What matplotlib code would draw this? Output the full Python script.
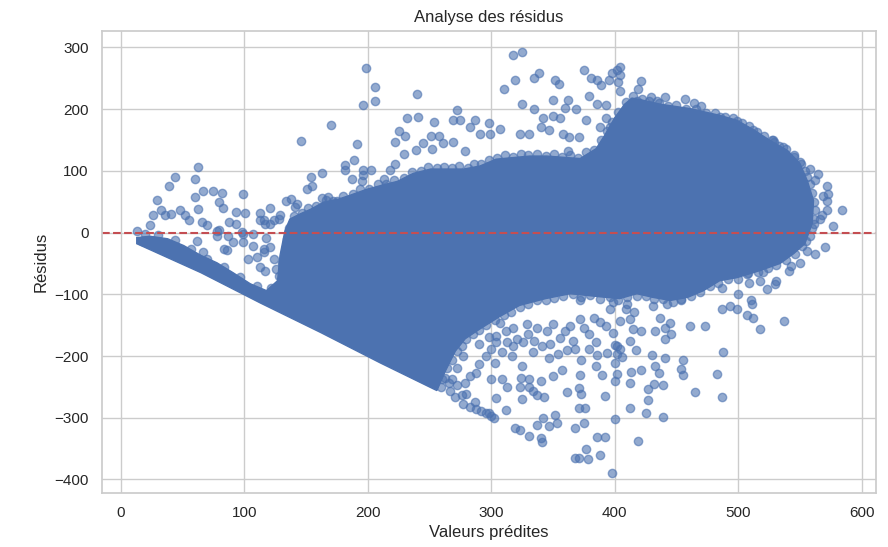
import matplotlib
matplotlib.use('Agg')
import matplotlib.pyplot as plt
import seaborn as sns

sns.set_theme(style='whitegrid')
plt.rcParams['font.family'] = ['Liberation Sans', 'DejaVu Sans']

# === Data: (predicted value, residual) ===
# outline of the solid core where thousands of points overlap
core_pts = [(13, -18), (65, -65), (113, -114), (162, -162), (210, -211), (256, -256),
            (263, -224), (271, -192), (279, -172), (291, -156), (307, -136), (323, -118),
            (344, -107), (364, -99), (388, -104), (404, -107), (418, -99), (431, -105),
            (445, -110), (459, -105), (472, -94), (485, -78), (499, -73), (517, -62),
            (534, -50), (545, -34), (554, -18), (560, 15), (561, 52), (556, 84),
            (550, 112), (540, 133), (526, 149), (513, 166), (499, 182), (485, 190),
            (461, 201), (437, 208), (424, 214), (414, 218), (408, 208), (400, 186),
            (392, 158), (385, 136), (372, 120), (345, 124), (331, 124), (304, 119),
            (291, 108), (278, 103), (251, 103), (237, 96), (224, 83), (212, 77),
            (199, 70), (185, 60), (176, 54), (164, 49), (154, 38), (145, 30),
            (137, 22), (133, 3), (129, -37), (127, -78), (118, -94), (105, -83),
            (91, -65), (78, -49), (65, -37), (51, -21), (38, -10), (24, -6), (13, -8)]

# points sitting on the rim of the core
rim_pts = [(140, 27), (147, 31), (152, 40), (158, 43), (166, 53), (172, 52), (180, 60),
           (188, 63), (194, 70), (201, 71), (208, 79), (215, 79), (221, 86), (229, 89),
           (236, 99), (243, 100), (249, 107), (256, 104), (262, 107), (268, 104),
           (274, 108), (281, 105), (286, 111), (292, 111), (298, 118), (305, 121),
           (311, 126), (318, 123), (324, 128), (330, 125), (337, 128), (344, 124),
           (351, 127), (357, 122), (364, 125), (370, 121), (377, 130), (383, 134),
           (389, 150), (394, 165), (398, 180), (403, 195), (409, 212), (415, 222),
           (422, 217), (428, 213), (436, 210), (443, 205), (450, 206), (458, 200),
           (466, 200), (474, 194), (481, 193), (489, 187), (496, 185), (503, 177),
           (509, 173), (515, 163), (521, 157), (527, 150), (533, 140), (539, 135),
           (545, 122), (550, 114), (554, 100), (556, 90), (558, 78), (560, 64),
           (561, 50), (562, 36), (561, 22), (560, 8), (558, -6), (555, -14),
           (552, -22), (546, -34), (539, -44), (531, -52), (524, -58), (516, -64),
           (508, -66), (500, -75), (492, -76), (484, -82), (477, -86), (469, -96),
           (462, -102), (454, -108), (447, -112), (439, -108), (432, -108), (425, -102),
           (418, -102), (410, -105), (403, -109), (396, -104), (388, -108), (380, -101),
           (373, -104), (366, -100), (358, -103), (351, -106), (344, -110), (337, -110),
           (330, -116), (323, -120), (316, -128), (310, -134), (303, -142), (296, -150),
           (290, -158), (285, -165), (280, -172), (276, -184), (272, -192), (268, -206),
           (264, -220), (260, -238), (20, -2), (30, -4), (44, -12), (57, -26), (70, -42),
           (84, -56), (97, -72), (110, -86), (122, -90), (128, -70), (131, -50),
           (134, -30), (135, -10), (136, 8)]

# scattered points, left part
left_pts = [(13, 2), (17, -13), (24, 13), (26, 29), (29, 53), (33, 36), (36, 28), (39, 75),
            (41, 30), (44, 90), (48, 36), (52, 29), (55, 20), (60, 87), (60, 58), (63, 107),
            (63, 39), (66, 17), (67, 67), (70, 13), (75, 68), (78, 3), (80, 49), (82, 64),
            (83, 40), (80, 4), (86, -29), (88, 17), (93, 34), (93, 14), (91, -16), (99, 62),
            (101, 32), (99, -2), (99, -16), (107, -2), (113, 31), (116, 21), (116, -32),
            (121, 40), (124, 20), (129, 28), (134, 52), (138, 55), (141, 42), (146, 148),
            (151, 71), (154, 90), (155, 76), (163, 97), (170, 175), (182, 110), (189, 117),
            (191, 144), (196, 206), (199, 266), (62, -13), (67, -32), (78, -5), (84, -27),
            (87, -5), (98, 1), (103, -43), (107, -21), (110, -40), (113, -56), (117, -62),
            (116, -27), (118, -8), (121, -24), (124, -43), (126, -59), (117, 14), (113, 20),
            (121, 14), (128, 22), (143, 47), (163, 56), (168, 57), (175, 52), (182, 101),
            (196, 101), (203, 101), (187, 87), (195, 84), (218, 101), (213, 87), (222, 111),
            (196, 94)]

# scattered points above the core
top_pts = [(206, 236), (206, 214), (240, 225), (232, 186), (241, 187), (254, 180), (225, 164),
           (230, 156), (222, 146), (251, 156), (258, 156), (245, 145), (239, 134), (252, 136),
           (261, 145), (269, 147), (272, 198), (269, 183), (275, 183), (283, 171), (287, 183),
           (298, 177), (310, 232), (318, 288), (325, 292), (319, 247), (325, 209), (335, 201),
           (335, 251), (339, 259), (342, 185), (350, 215), (350, 189), (352, 247), (355, 241),
           (356, 185), (360, 202), (362, 215), (369, 201), (375, 264), (379, 222), (381, 250),
           (386, 248), (389, 239), (395, 247), (402, 264), (404, 255), (398, 258), (403, 244),
           (404, 230), (386, 209), (393, 206), (377, 182), (371, 155), (362, 133), (363, 155),
           (340, 171), (347, 167), (331, 160), (323, 160), (307, 168), (291, 160), (299, 160),
           (421, 245), (419, 233), (418, 214), (429, 220), (404, 185), (396, 171), (388, 171),
           (229, 128), (279, 133), (358, 159), (393, 185), (404, 268), (441, 219), (457, 217),
           (464, 210), (470, 205), (499, 181), (512, 166), (528, 150), (485, 187), (421, 209),
           (434, 214)]

# scattered points on the right and lower right
right_pts = [(529, 146), (536, 138), (545, 125), (551, 111), (558, 103), (565, 95), (562, 86),
             (572, 75), (569, 60), (573, 62), (572, 52), (572, 37), (584, 37), (568, 28),
             (566, 22), (561, 14), (577, 11), (570, -24), (556, -30), (562, -35), (550, -49),
             (543, -54), (541, -63), (531, -78), (530, -83), (523, -91), (518, -78), (509, -82),
             (507, -67), (512, -56), (520, -64), (500, -100), (510, -110), (511, -116),
             (512, -138), (518, -156), (537, -143), (493, -119), (487, -124), (499, -124),
             (487, -89), (473, -151), (461, -151), (454, -110), (442, -116), (431, -119),
             (445, -146), (437, -138), (433, -159), (441, -173), (421, -159), (412, -175),
             (410, -116), (416, -129), (507, -133), (488, -194), (483, -229), (487, -267),
             (465, -258), (455, -207), (454, -221), (455, -230), (441, -203), (439, -247),
             (436, -228), (433, -216), (430, -198), (439, -299), (427, -271), (425, -293),
             (412, -285), (412, -244), (421, -223), (413, -226), (417, -190), (419, -338),
             (441, -154), (446, -164), (415, -156), (412, -140), (404, -143)]

# scattered points below the core
low_pts = [(400, -302), (392, -265), (392, -331), (398, -390), (388, -360), (390, -231),
           (400, -211), (402, -197), (404, -189), (394, -195), (406, -202), (399, -162),
           (393, -151), (400, -182), (341, -183), (356, -171), (347, -203), (354, -196),
           (361, -190), (368, -189), (373, -206), (379, -189), (386, -198), (402, -183),
           (357, -223), (350, -233), (340, -241), (331, -238), (324, -235), (325, -216),
           (309, -238), (300, -238), (313, -250), (323, -250), (331, -250), (325, -270),
           (337, -263), (343, -266), (361, -258), (371, -252), (373, -261), (372, -231),
           (385, -216), (304, -268), (312, -287), (300, -297), (298, -292), (319, -316),
           (323, -320), (331, -330), (340, -333), (341, -339), (337, -312), (342, -300),
           (347, -314), (352, -296), (353, -309), (368, -316), (375, -309), (386, -331),
           (377, -350), (368, -365), (371, -366), (378, -367), (304, -177), (321, -172),
           (334, -256), (371, -285), (376, -285), (400, -240), (402, -229), (427, -254),
           (432, -246), (267, -256), (271, -267), (277, -278), (283, -282), (288, -286),
           (292, -289), (296, -293), (302, -300), (280, -262), (287, -274), (276, -263),
           (266, -243), (272, -247), (259, -251), (237, -208), (250, -208), (256, -194),
           (242, -219), (248, -229), (258, -221), (263, -235), (268, -238), (279, -243),
           (283, -232), (288, -227), (272, -219), (277, -200), (290, -213), (296, -200),
           (303, -211), (309, -194), (317, -200), (318, -183), (326, -178), (334, -194),
           (304, -167), (379, -164), (396, -124), (383, -138), (372, -140), (364, -151),
           (350, -148), (337, -154), (329, -148), (318, -154), (307, -146), (294, -138),
           (283, -148), (372, -110), (399, -113), (409, -124), (290, -180), (298, -170),
           (312, -160), (330, -165), (345, -160), (360, -160), (375, -155), (388, -145),
           (300, -188), (313, -178), (335, -175), (348, -180), (366, -175), (385, -178)]

core_pred, core_resid = zip(*core_pts)
pred, resid = zip(*(rim_pts + left_pts + top_pts + right_pts + low_pts))

blue = sns.color_palette()[0]

# === Plot ===
fig = plt.figure(figsize=(8.88, 5.47), dpi=100)
ax = fig.add_axes([0.1145, 0.0993, 0.872, 0.8446])

ax.fill(core_pred, core_resid, color=blue, lw=1, zorder=1)
ax.scatter(pred, resid, alpha=0.6, color=blue, zorder=1)
ax.axhline(0, color='r', linestyle='--')

ax.set_xlim(-15.4, 611.6)
ax.set_ylim(-421.5, 327.2)
ax.set_title("Analyse des résidus")
ax.set_xlabel("Valeurs prédites")
ax.set_ylabel("Résidus")

fig.savefig('out.png', dpi=100)
